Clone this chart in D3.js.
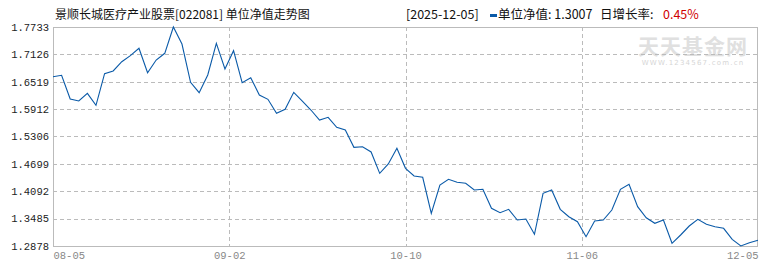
<!DOCTYPE html>
<html><head><meta charset="utf-8">
<script src="https://cdn.jsdelivr.net/npm/d3@7/dist/d3.min.js"></script>
<style>body{margin:0;background:#fff;}svg{display:block;}</style>
</head><body><div id="chart"></div>
<script>
const titleText = "景顺长城医疗产业股票[022081] 单位净值走势图";
const headerDate = "[2025-12-05]";
const headerNavLabel = "单位净值:";
const headerNav = "1.3007";
const headerRateLabel = "日增长率:";
const headerRate = "0.45%";
const xTickLabels = ["08-05", "09-02", "10-10", "11-06", "12-05"];
const yTickValues = [1.2878, 1.3485, 1.4092, 1.4699, 1.5306, 1.5912, 1.6519, 1.7126, 1.7733];
const navValues = [
 1.6631,1.6662,1.6137,1.6092,1.6263,1.5997,1.6698,1.6758,1.6964,1.7097,
 1.7261,1.6720,1.7001,1.7150,1.7733,1.7356,1.6507,1.6276,1.6669,1.7372,
 1.6802,1.7208,1.6498,1.6609,1.6225,1.6130,1.5820,1.5908,1.6285,1.6092,
 1.5893,1.5671,1.5731,1.5509,1.5449,1.5066,1.5079,1.4962,1.4489,1.4696,
 1.5044,1.4600,1.4430,1.4401,1.3603,1.4230,1.4356,1.4290,1.4268,1.4119,
 1.4135,1.3714,1.3616,1.3691,1.3454,1.3476,1.3137,1.4046,1.4119,1.3691,
 1.3527,1.3417,1.3084,1.3432,1.3454,1.3676,1.4135,1.4246,1.3749,1.3505,
 1.3381,1.3454,1.2938,1.3122,1.3321,1.3470,1.3359,1.3306,1.3270,1.3026,
 1.2878,1.2949,1.3007];

const W = 770, H = 270;
const L = 53, R = 758, T = 27, B = 246;
const svg = d3.select("#chart").append("svg").attr("width", W).attr("height", H);

const n = navValues.length;
const x = d3.scaleLinear().domain([0, n - 1]).range([L, R]);
const y = d3.scaleLinear().domain([d3.min(yTickValues), d3.max(yTickValues)]).range([B, T]);
const gridColor = "#bbb";

// watermark
svg.append("text").attr("x", 693).attr("y", 54).attr("text-anchor", "middle")
  .attr("font-family", "Noto Sans CJK SC").attr("font-size", 21).attr("font-weight", "bold")
  .attr("fill", "#e0e0e0").attr("letter-spacing", 1).text("天天基金网");
svg.append("text").attr("x", 693).attr("y", 65).attr("text-anchor", "middle")
  .attr("font-family", "DejaVu Sans").attr("font-size", 7)
  .attr("fill", "#d6d6d6").attr("letter-spacing", 1.2).text("WWW.1234567.com.cn");

// horizontal grid
const yAxis = d3.axisLeft(y).tickValues(yTickValues).tickSize(0).tickPadding(4)
  .tickFormat(d3.format(".4f"));
const gy = svg.append("g").attr("transform", `translate(${L},0)`).call(yAxis);
gy.select(".domain").remove();
gy.selectAll("text").attr("font-family", "Liberation Mono").attr("font-size", 10.5).attr("fill", "#222");
svg.append("g").selectAll("line").data(yTickValues.slice(1, -1)).join("line")
  .attr("x1", L).attr("x2", R).attr("y1", d => Math.round(y(d)) + 0.5).attr("y2", d => Math.round(y(d)) + 0.5)
  .attr("stroke", gridColor).attr("stroke-dasharray", "4,3");

// vertical grid & x labels
const xTickPos = xTickLabels.map((_, i) => i * (n - 1) / (xTickLabels.length - 1));
svg.append("g").selectAll("line").data(xTickPos.slice(1, -1)).join("line")
  .attr("x1", d => Math.round(x(d)) + 0.5).attr("x2", d => Math.round(x(d)) + 0.5)
  .attr("y1", T).attr("y2", B)
  .attr("stroke", gridColor).attr("stroke-dasharray", "4,3");
const xAxis = d3.axisBottom(x).tickValues(xTickPos).tickSize(0).tickPadding(6)
  .tickFormat((d, i) => xTickLabels[i]);
const gx = svg.append("g").attr("transform", `translate(0,${B})`).call(xAxis);
gx.select(".domain").remove();
gx.selectAll("text").attr("font-family", "Liberation Mono").attr("font-size", 10.5).attr("fill", "#888")
  .attr("text-anchor", (d, i) => i === 0 ? "start" : (i === xTickLabels.length - 1 ? "end" : "middle"));

// frame
svg.append("rect").attr("x", L + 0.5).attr("y", T + 0.5).attr("width", R - L - 1).attr("height", B - T)
  .attr("fill", "none").attr("stroke", gridColor);

// line
const line = d3.line().x((d, i) => x(i)).y(d => y(d));
svg.append("path").datum(navValues).attr("d", line).attr("fill", "none")
  .attr("stroke", "#0a5aa8").attr("stroke-width", 1.1);

// header
const hf = "Noto Sans CJK SC";
svg.append("text").attr("x", 55).attr("y", 19).attr("font-family", hf).attr("font-size", 12)
  .attr("fill", "#111").text(titleText);
svg.append("text").attr("x", 406).attr("y", 19).attr("font-family", hf).attr("font-size", 12.5)
  .attr("fill", "#111").text(headerDate);
svg.append("rect").attr("x", 490).attr("y", 14).attr("width", 7).attr("height", 3).attr("fill", "#0a5aa8");
svg.append("text").attr("x", 498).attr("y", 19).attr("font-family", hf).attr("font-size", 12.5)
  .attr("fill", "#111").text(headerNavLabel + " " + headerNav);
svg.append("text").attr("x", 600).attr("y", 19).attr("font-family", hf).attr("font-size", 12.5)
  .attr("fill", "#111").text(headerRateLabel);
svg.append("text").attr("x", 663).attr("y", 19).attr("font-family", hf).attr("font-size", 12.5)
  .attr("fill", "#d00000").text(headerRate);
</script></body></html>
